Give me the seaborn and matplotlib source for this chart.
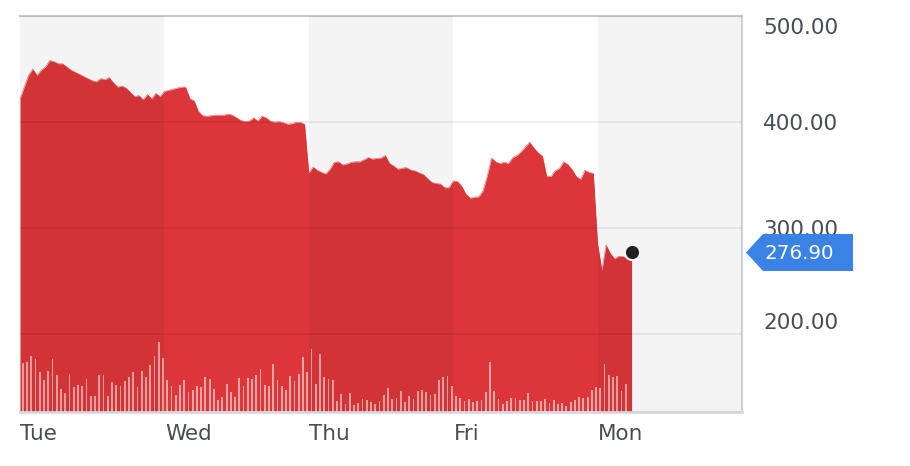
import numpy as np
import pandas as pd
import matplotlib
matplotlib.use("Agg")
import matplotlib.pyplot as plt
import matplotlib.transforms as mtransforms
from matplotlib.patches import Polygon
import seaborn as sns

# ---------------- data ----------------
days = ["Tue", "Wed", "Thu", "Fri", "Mon"]
slots_per_day = 34

price_tue = [422, 433, 444, 450, 444, 449, 452, 458, 457, 455, 455, 452, 449, 447, 445, 443, 441,
             439, 438, 441, 440, 442, 437, 433, 434, 432, 428, 424, 425, 421, 426, 422, 427, 424]
price_wed = [429, 430, 431, 432, 433, 433, 422, 420, 410, 406, 405.5, 406, 406.5, 406.5, 406.5, 407.5,
             406.5, 404, 401.5, 400.5, 401, 404, 401, 405.5, 404, 400.5, 400, 400.3, 399.5, 398, 398.5,
             399.7, 399.7, 398]
price_thu = [352, 357.5, 354.5, 352.5, 351, 355.5, 362, 362.5, 359.5, 360.5, 362, 362.5, 362.5, 364.5,
             366.5, 365, 365.7, 366, 368.5, 361, 358.5, 355.5, 356.5, 357, 354.7, 354, 352, 350.5, 346.5,
             343, 342, 341.5, 338, 338]
price_fri = [344.5, 344, 339.5, 332, 328.3, 329, 329.5, 335, 349, 366, 362.5, 361, 362, 361, 366.5,
             368.5, 372, 376.7, 381, 375.5, 371, 368, 349, 348.5, 354, 356.3, 362.5, 360, 355, 348.5,
             346, 354.5, 352.5, 351.6]
price_mon = [285, 260, 284, 276, 271, 273.5, 273, 272, 276.9]
price = price_tue + price_wed + price_thu + price_fri + price_mon

volume_k = [490, 497, 560, 530, 397, 317, 407, 530, 373, 227, 193, 380, 253, 267, 257, 333, 160, 160,
            367, 367, 157, 300, 273, 260, 313, 350, 397, 247, 410, 347, 473, 560, 700, 540,
            320, 257, 173, 267, 323, 203, 217, 260, 253, 347, 333, 230, 117, 150, 283, 203, 147, 340,
            257, 340, 333, 370, 430, 273, 260, 483, 323, 260, 223, 363, 313,
            383, 547, 400, 633, 280, 580, 347, 333, 323, 113, 183, 83, 193, 73, 90, 130, 120, 103, 83,
            107, 170, 240, 133, 140, 210, 103, 157, 127, 207, 220, 197, 173, 183, 323, 350, 363, 263,
            163, 137, 113, 133, 103, 107, 123, 200, 500, 210, 133, 83, 110, 140, 143, 117, 120, 190,
            113, 113, 113, 133, 87, 120, 83, 90, 63, 103, 120, 150, 140, 147, 223, 247, 240, 477, 373,
            353, 360, 213, 283]

y_ticks = [500, 400, 300, 200]
last_label = "276.90"

# ---------------- style ----------------
RED = "#dc363a"
TXT = "#464e56"
BLUE = "#3a82e6"

sns.set_theme(style="white")
plt.rcParams["font.family"] = ["DejaVu Sans"]

W, H = 910, 466
fig = plt.figure(figsize=(W / 100, H / 100), dpi=100)
ax = fig.add_axes([20 / W, 54 / H, 722 / W, 396 / H])

df = pd.DataFrame({"t": np.arange(len(price)), "price": price})
ymin, ymax = 126.4, 500
ax.fill_between(df["t"], df["price"], ymin, color=RED, lw=0, zorder=1)
sns.lineplot(data=df, x="t", y="price", ax=ax, color=RED, lw=0.3, zorder=2)
ax.set_xlim(0, slots_per_day * len(days))
ax.set_ylim(ymin, ymax)

for v in y_ticks[1:]:
    ax.axhline(v, color="black", alpha=0.08, lw=1.3, zorder=3)

# volume on twin axis
axv = ax.twinx()
vdf = pd.DataFrame({"t": np.arange(len(volume_k)) + 0.65, "vol": volume_k})
axv.bar(vdf["t"], vdf["vol"], width=0.42, color="white", alpha=0.55, lw=0, zorder=2)
axv.set_ylim(0, 3960)
axv.set_yticks([])

# alternating day bands (dark translucent overlay)
for d in range(0, len(days), 2):
    axv.axvspan(d * slots_per_day, (d + 1) * slots_per_day, color="black", alpha=0.045, lw=0, zorder=5)

# spines
for a in (ax, axv):
    for s in a.spines.values():
        s.set_visible(False)
ax.spines["top"].set_visible(True)
ax.spines["top"].set_color("#c6c6d6")
ax.spines["top"].set_linewidth(1.5)
ax.spines["right"].set_visible(True)
ax.spines["right"].set_color("#d3d6dc")
ax.spines["right"].set_linewidth(1.5)
ax.spines["bottom"].set_visible(True)
ax.spines["bottom"].set_color("#d6d8de")
ax.spines["bottom"].set_linewidth(2)
ax.set_xticks([])
ax.set_yticks([])
ax.set_xlabel("")
ax.set_ylabel("")

# y labels (right side)
ytr = mtransforms.blended_transform_factory(ax.transAxes, ax.transData)
offsets = {500: -12, 400: -2, 300: -2, 200: 11}
for v in y_ticks:
    tr = mtransforms.offset_copy(ytr, fig=fig, x=0, y=offsets[v], units="dots")
    ax.text(1.029, v, f"{v:.2f}", transform=tr, ha="left", va="center",
            fontsize=15.5, color=TXT, clip_on=False)

# x labels (day starts)
xtr = mtransforms.blended_transform_factory(ax.transData, ax.transAxes)
for i, d in enumerate(days):
    ax.text(i * slots_per_day + 0.1, -0.056, d, transform=xtr, ha="left", va="center",
            fontsize=15.5, color=TXT, clip_on=False)

# end dot
ax.scatter([df["t"].iloc[-1]], [price[-1]], s=120, color="#222222", edgecolor="white",
           linewidth=1.5, zorder=10, clip_on=False)

# price tag
fig.canvas.draw()
xr = ax.transAxes.transform((1, 0))[0]
yl = ax.transData.transform((0, price[-1]))[1]
hh = 18.5
pts = [(xr + 4, yl), (xr + 21, yl + hh), (xr + 111, yl + hh), (xr + 111, yl - hh), (xr + 21, yl - hh)]
tag = Polygon(pts, closed=True, facecolor=BLUE, edgecolor="none",
              transform=mtransforms.IdentityTransform())
fig.add_artist(tag)
fig.text(xr + 22, yl - 1, last_label, transform=mtransforms.IdentityTransform(),
         ha="left", va="center", fontsize=14.3, color="white")

fig.savefig("out.png", dpi=100)
